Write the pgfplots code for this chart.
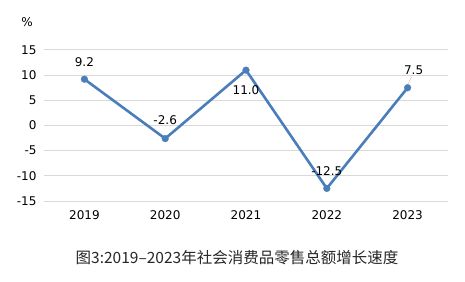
\documentclass[border=0pt]{standalone}
\usepackage{pgfplots}
\pgfplotsset{compat=1.18}
\usepackage{fontspec}
\setmainfont{DejaVu Sans}
\newfontfamily\cjk{Noto Sans CJK SC}
\definecolor{linec}{HTML}{4A7EBB}
\definecolor{gridc}{HTML}{D9D9D9}
\begin{document}
\begin{tikzpicture}[x=1pt,y=1pt]
\useasboundingbox (0,0) rectangle (465,281);
\begin{axis}[
  at={(44pt,80pt)}, anchor=south west,
  scale only axis, width=404pt, height=151pt,
  xmin=-0.5, xmax=4.5, ymin=-15, ymax=15,
  xtick={0,1,2,3,4},
  xticklabels={2019,2020,2021,2022,2023},
  ytick={-15,-10,-5,0,5,10,15},
  axis line style={draw=none},
  major tick length=0pt,
  ymajorgrids, grid style={gridc, line width=1pt},
  tick label style={font=\fontsize{12}{14}\selectfont, text=black},
  /pgf/number format/assume math mode=true,
  yticklabel style={xshift=-4pt},
  xticklabel style={yshift=-6pt},
  clip=false,
]
\addplot[linec, line width=2.6pt, mark=*, mark size=3.4pt, mark options={fill=linec, draw=linec, line width=0.3pt, solid}]
  coordinates {(0,9.2) (1,-2.6) (2,11.0) (3,-12.5) (4,7.5)};
\node[font=\fontsize{12}{14}\selectfont] at (axis cs:0,9.2) [yshift=17pt] {9.2};
\node[font=\fontsize{12}{14}\selectfont] at (axis cs:1,-2.6) [yshift=18pt] {-2.6};
\node[font=\fontsize{12}{14}\selectfont] at (axis cs:2,11.0) [yshift=-20pt] {11.0};
\node[font=\fontsize{12}{14}\selectfont] at (axis cs:3,-12.5) [yshift=17pt] {-12.5};
\node[font=\fontsize{12}{14}\selectfont] (l75) at (axis cs:4,7.5) [xshift=6pt, yshift=18pt] {7.5};
\draw[red!40, line width=0.4pt] (l75.south) ++(-2pt,1pt) -- ++(-4pt,-8pt);
\node[font=\fontsize{12}{14}\selectfont] at (axis cs:-0.5,15) [xshift=-17pt, yshift=28pt] {\%};
\end{axis}
\node[font=\cjk\fontsize{15.5}{17}\selectfont, text=black!85] at (237,23) {图3:2019–2023年社会消费品零售总额增长速度};
\end{tikzpicture}
\end{document}
